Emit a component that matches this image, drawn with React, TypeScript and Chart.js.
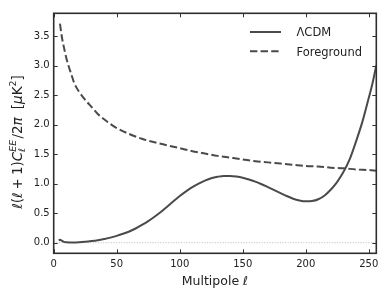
import { useEffect, useRef } from "react";
import { Chart, registerables } from "chart.js";
Chart.register(...registerables);

const lcdmEll = [4, 5, 6, 7, 8, 10, 13, 16, 20, 25, 30, 35, 40, 45, 50, 55, 60, 65, 70, 75, 80, 85, 90, 95, 100, 105, 110, 115, 120, 125, 130, 135, 140, 145, 150, 155, 160, 165, 170, 175, 180, 185, 190, 195, 200, 205, 210, 215, 220, 225, 230, 235, 240, 245, 250, 253, 256];
const lcdmVals = [0.04, 0.05, 0.04, 0.025, 0.014, 0.006, 0.004, 0.004, 0.007, 0.015, 0.027, 0.042, 0.062, 0.085, 0.115, 0.15, 0.19, 0.24, 0.3, 0.365, 0.44, 0.52, 0.61, 0.7, 0.79, 0.87, 0.94, 1.0, 1.05, 1.09, 1.115, 1.13, 1.13, 1.12, 1.1, 1.07, 1.035, 0.99, 0.94, 0.89, 0.84, 0.79, 0.745, 0.715, 0.7, 0.705, 0.735, 0.8, 0.9, 1.03, 1.2, 1.42, 1.72, 2.05, 2.45, 2.7, 3.0];

const fgEll = [5, 6, 7, 8, 9, 10, 12, 14, 16, 18, 20, 25, 30, 35, 40, 45, 50, 60, 70, 80, 90, 100, 110, 120, 130, 140, 150, 160, 170, 180, 190, 200, 210, 220, 230, 240, 250, 256];
const fgVals = [3.71, 3.55, 3.42, 3.32, 3.22, 3.13, 2.98, 2.85, 2.72, 2.63, 2.56, 2.42, 2.3, 2.18, 2.09, 2.01, 1.94, 1.84, 1.76, 1.7, 1.65, 1.6, 1.55, 1.51, 1.47, 1.44, 1.41, 1.38, 1.36, 1.34, 1.32, 1.3, 1.29, 1.27, 1.26, 1.24, 1.23, 1.22];

const zeroEll = [0, 256];
const zeroVals = [0, 0];

const seriesLabels = ["ΛCDM", "Foreground"];
const xTicks = [0, 50, 100, 150, 200, 250];
const yTicks = [0, 0.5, 1, 1.5, 2, 2.5, 3, 3.5];

const FONT = "DejaVu Sans";
const LINE = "#4a4a4a";
const TEXT = "#222";

type Seg = { t?: string; it?: boolean; sc?: number; rise?: number; back?: boolean; gap?: number };

function drawSegs(ctx: CanvasRenderingContext2D, segs: Seg[], fs: number, startX: number, baseY: number, draw: boolean): number {
  let x = startX;
  let prevStart = x;
  let prevW = 0;
  for (const s of segs) {
    if (s.gap) {
      x += s.gap * fs;
      continue;
    }
    const size = fs * (s.sc ?? 1);
    ctx.font = `${s.it ? "italic " : ""}${size}px "${FONT}"`;
    const w = ctx.measureText(s.t!).width;
    const y = baseY - (s.rise ?? 0) * fs;
    if (s.back) {
      if (draw) ctx.fillText(s.t!, prevStart, y);
      x = prevStart + Math.max(prevW, w);
    } else {
      if (draw) ctx.fillText(s.t!, x, y);
      prevStart = x;
      prevW = w;
      x += w;
    }
  }
  return x - startX;
}

const ySegs: Seg[] = [
  { t: "ℓ", it: true },
  { t: "(" },
  { t: "ℓ", it: true },
  { gap: 0.22 },
  { t: "+" },
  { gap: 0.22 },
  { t: "1" },
  { t: ")" },
  { t: "C", it: true },
  { t: "EE", it: true, sc: 0.7, rise: 0.42 },
  { t: "ℓ", it: true, sc: 0.7, rise: -0.22, back: true },
  { gap: 0.1 },
  { t: "/" },
  { t: "2" },
  { t: "π", it: true },
  { gap: 0.6 },
  { t: "[" },
  { t: "μ", it: true },
  { t: "K" },
  { t: "2", sc: 0.7, rise: 0.45 },
  { t: "]" },
];

const xSegs: Seg[] = [{ t: "Multipole " }, { t: "ℓ", it: true }];

const decor = {
  id: "decor",
  afterDatasetsDraw(chart: any) {
    const { ctx, chartArea } = chart;
    const { left, right, top, bottom } = chartArea;
    const xs = chart.scales.x;
    const ys = chart.scales.y;
    ctx.save();
    ctx.strokeStyle = "#333";
    ctx.lineWidth = 1;
    const tl = 4;
    ctx.beginPath();
    for (const v of xTicks) {
      const px = Math.round(xs.getPixelForValue(v)) + 0.5;
      ctx.moveTo(px, bottom);
      ctx.lineTo(px, bottom - tl);
      ctx.moveTo(px, top);
      ctx.lineTo(px, top + tl);
    }
    for (const v of yTicks) {
      const py = Math.round(ys.getPixelForValue(v)) + 0.5;
      ctx.moveTo(left, py);
      ctx.lineTo(left + tl, py);
      ctx.moveTo(right, py);
      ctx.lineTo(right - tl, py);
    }
    ctx.stroke();
    ctx.lineWidth = 1.6;
    ctx.strokeStyle = "#2e2e2e";
    ctx.strokeRect(left, top, right - left, bottom - top);

    const ds = chart.data.datasets;
    const rows = [32, 51.3];
    for (let i = 0; i < 2; i++) {
      const d = ds[i];
      ctx.beginPath();
      ctx.strokeStyle = d.borderColor;
      ctx.lineWidth = d.borderWidth;
      ctx.setLineDash(d.borderDash || []);
      ctx.moveTo(250, rows[i]);
      ctx.lineTo(281, rows[i]);
      ctx.stroke();
      ctx.setLineDash([]);
      ctx.fillStyle = TEXT;
      ctx.font = `11.5px "${FONT}"`;
      ctx.textAlign = "left";
      ctx.textBaseline = "alphabetic";
      ctx.fillText(d.label, 296.5, rows[i] + 4.2);
    }

    ctx.fillStyle = TEXT;
    ctx.textAlign = "left";
    ctx.textBaseline = "alphabetic";
    const fx = 12.5;
    const wx = drawSegs(ctx, xSegs, fx, 0, 0, false);
    drawSegs(ctx, xSegs, fx, (left + right) / 2 - wx / 2, 284.5, true);

    const fy = 13.5;
    ctx.translate(22, 142);
    ctx.rotate(-Math.PI / 2);
    const wy = drawSegs(ctx, ySegs, fy, 0, 0, false);
    drawSegs(ctx, ySegs, fy, -wy / 2, 0, true);
    ctx.restore();
  },
};

export default function App() {
  const ref = useRef<HTMLCanvasElement | null>(null);
  useEffect(() => {
    document.body.style.margin = "0";
    const canvas = ref.current!;
    const chart = new Chart(canvas, {
      type: "line",
      data: {
        datasets: [
          {
            label: seriesLabels[0],
            data: lcdmEll.map((x, i) => ({ x, y: lcdmVals[i] })),
            borderColor: LINE,
            borderWidth: 2,
            pointRadius: 0,
            fill: false,
            cubicInterpolationMode: "monotone",
          },
          {
            label: seriesLabels[1],
            data: fgEll.map((x, i) => ({ x, y: fgVals[i] })),
            borderColor: LINE,
            borderWidth: 2,
            borderDash: [7.4, 3.2],
            pointRadius: 0,
            fill: false,
            cubicInterpolationMode: "monotone",
          },
          {
            label: "zero",
            data: zeroEll.map((x, i) => ({ x, y: zeroVals[i] })),
            borderColor: "#aaaaaa",
            borderWidth: 0.8,
            borderDash: [1, 1.6],
            pointRadius: 0,
            fill: false,
          },
        ],
      },
      options: {
        responsive: false,
        animation: false,
        layout: { padding: { top: 13.3, right: 13.7, left: 0, bottom: 0 } },
        plugins: { legend: { display: false }, tooltip: { enabled: false } },
        scales: {
          x: {
            type: "linear",
            min: 0,
            max: 256,
            grid: { display: false, drawTicks: false },
            border: { display: false },
            ticks: { padding: 5, font: { family: FONT, size: 10 }, color: TEXT, maxRotation: 0 },
            afterBuildTicks: (s: any) => {
              s.ticks = xTicks.map((v) => ({ value: v }));
            },
            afterFit: (s: any) => {
              s.height = 44.7;
            },
          },
          y: {
            type: "linear",
            min: -0.18,
            max: 3.885,
            grid: { display: false, drawTicks: false },
            border: { display: false },
            ticks: {
              padding: 4,
              font: { family: FONT, size: 10 },
              color: TEXT,
              callback: (v: any) => Number(v).toFixed(1),
            },
            afterBuildTicks: (s: any) => {
              s.ticks = yTicks.map((v) => ({ value: v }));
            },
            afterFit: (s: any) => {
              s.width = 53.7;
            },
          },
        },
      },
      plugins: [decor],
    });
    return () => chart.destroy();
  }, []);
  return (
    <div style={{ width: 390, height: 298 }}>
      <canvas ref={ref} width={390} height={298} style={{ display: "block" }} />
    </div>
  );
}
